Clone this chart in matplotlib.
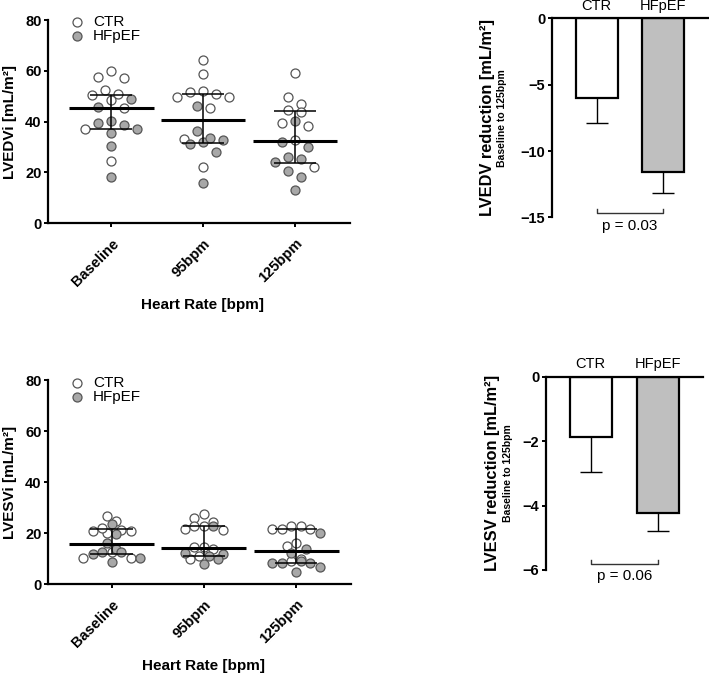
import numpy as np
import matplotlib.pyplot as plt
from matplotlib.transforms import ScaledTranslation

plt.rcParams['font.family'] = ['Liberation Sans', 'DejaVu Sans']

categories = ['Baseline', '95bpm', '125bpm']
bar_groups = ['CTR', 'HFpEF']

# LVEDVi per heart rate, CTR and HFpEF
edv_ctr = [
    [60.0, 57.0, 57.4, 52.4, 50.4, 50.8, 48.4, 45.2, 37.0, 24.3],
    [64.2, 58.9, 51.7, 50.7, 49.7, 49.7, 52.1, 45.2, 33.3, 22.2],
    [59.2, 49.7, 46.9, 43.8, 44.5, 39.6, 38.3, 32.7, 22.2],
]
edv_hf = [
    [48.8, 45.8, 38.6, 39.5, 35.6, 40.3, 37.0, 30.3, 18.2],
    [46.1, 36.2, 32.9, 32.0, 31.1, 33.6, 28.1, 15.6],
    [40.3, 32.0, 29.8, 26.1, 24.1, 25.2, 20.6, 18.0, 13.0],
]
edv_median = [45.2, 40.6, 32.3]
edv_q1 = [36.9, 31.6, 23.5]
edv_q3 = [50.6, 51.0, 44.1]

# LVESVi per heart rate
esv_ctr = [
    [26.7, 24.8, 20.9, 20.1, 21.8, 21.2, 20.9, 12.7, 10.1, 10.1],
    [27.5, 25.8, 24.4, 22.7, 21.4, 22.7, 21.2, 14.6, 14.6, 13.6, 11.1, 9.7],
    [21.6, 21.6, 21.6, 22.9, 22.9, 16.0, 14.9, 9.7, 9.1],
]
esv_hf = [
    [23.5, 19.6, 16.0, 13.7, 12.7, 12.7, 11.8, 10.1, 8.5],
    [22.7, 12.0, 11.8, 9.7, 11.1, 7.8],
    [19.9, 12.3, 13.6, 8.4, 8.1, 8.1, 9.0, 6.8, 4.8],
]
esv_median = [15.7, 14.2, 13.1]
esv_q1 = [11.8, 11.1, 8.1]
esv_q3 = [21.4, 22.7, 21.6]

# reduction baseline -> 125bpm (mean, sem)
edv_red = [-6.0, -11.56]
edv_red_err = [1.91, 1.58]
esv_red = [-1.88, -4.24]
esv_red_err = [1.09, 0.54]
p_edv = 'p = 0.03'
p_esv = 'p = 0.06'

GREY = '#a8a8a8'
EDGE = '#555555'


def row_offsets(values, ypx, xpx, h, s):
    # group close values into rows, spread each row around the centre
    y = np.asarray(values) * ypx
    xs = np.zeros(len(y))
    rows = []
    for i in np.argsort(-y, kind='stable'):
        if rows and y[rows[-1][0]] - y[i] < h:
            rows[-1].append(i)
        else:
            rows.append([i])
    for row in rows:
        n = len(row)
        slots = (np.arange(n) - (n - 1) / 2) * s
        order = sorted(range(n), key=lambda k: (abs(slots[k]), slots[k]))
        for idx, k in zip(row, order):
            xs[idx] = slots[k]
    return xs / xpx


def dot_panel(ax, ctr, hf, med, q1, q3, ylabel, ypx, leg_y, h, s):
    for k in range(3):
        vals = np.array(ctr[k] + hf[k])
        is_hf = np.array([False] * len(ctr[k]) + [True] * len(hf[k]))
        off = row_offsets(vals, ypx, 92.0, h, s)
        ax.scatter(k + off[~is_hf], vals[~is_hf], s=42, facecolor='white',
                   edgecolor=EDGE, lw=0.9, zorder=2)
        ax.scatter(k + off[is_hf], vals[is_hf], s=42, facecolor=GREY,
                   edgecolor=EDGE, lw=0.9, zorder=2)
    x = np.arange(3)
    ax.hlines(med, x - 0.46, x + 0.46, color='black', lw=2.2, zorder=4)
    ax.vlines(x, q1, q3, color='black', lw=1.1, zorder=4)
    ax.hlines(q1, x - 0.23, x + 0.23, color='black', lw=1.1, zorder=4)
    ax.hlines(q3, x - 0.23, x + 0.23, color='black', lw=1.1, zorder=4)

    ax.set_xlim(-0.69, 2.6)
    ax.set_ylim(0, 80)
    ax.set_yticks([0, 20, 40, 60, 80])
    ax.set_xticks(x)
    ax.set_xticklabels(categories, rotation=45, ha='right', va='top',
                       rotation_mode='anchor', fontweight='bold', fontsize=10.5)
    for lbl in ax.get_xticklabels():
        lbl.set_transform(lbl.get_transform() + ScaledTranslation(0.07, 0, fig.dpi_scale_trans))
    for lbl in ax.get_yticklabels():
        lbl.set_fontweight('bold')
        lbl.set_fontsize(10.5)
    ax.tick_params(axis='both', length=3, width=1.4, pad=1.5)
    ax.tick_params(axis='x', pad=6.5)
    for sp in ['top', 'right']:
        ax.spines[sp].set_visible(False)
    for sp in ['left', 'bottom']:
        ax.spines[sp].set_linewidth(1.6)

    ax.text(-0.126, 0.5, ylabel, transform=ax.transAxes, rotation=90,
            ha='center', va='center', fontweight='bold', fontsize=11)
    ax.text(0.513, -0.404, 'Heart Rate [bpm]', transform=ax.transAxes,
            ha='center', va='center', fontweight='bold', fontsize=11)

    # legend
    ax.scatter([0.096], [leg_y[0]], s=42, facecolor='white', edgecolor=EDGE, lw=0.9,
               transform=ax.transAxes, clip_on=False)
    ax.scatter([0.096], [leg_y[1]], s=42, facecolor=GREY, edgecolor=EDGE, lw=0.9,
               transform=ax.transAxes, clip_on=False)
    ax.text(0.149, leg_y[0], 'CTR', transform=ax.transAxes, va='center', fontsize=11)
    ax.text(0.149, leg_y[1], 'HFpEF', transform=ax.transAxes, va='center', fontsize=11)


def bar_panel(ax, means, errs, low, ticks, xlim, ptext, br_y, p_y, title, lab_x):
    x = np.arange(2)
    means = np.array(means)
    errs = np.array(errs)
    ax.bar(x, means, width=0.63, color=['white', '#bfbfbf'], edgecolor='black',
           lw=1.6, zorder=2)
    ax.vlines(x, means - errs, means, color='black', lw=1.0, zorder=1)
    ax.hlines(means - errs, x - 0.165, x + 0.165, color='black', lw=1.0, zorder=1)

    ax.set_xlim(*xlim)
    ax.set_ylim(low, 0)
    ax.set_yticks(ticks)
    ax.set_xticks(x)
    ax.set_xticklabels(bar_groups, fontsize=10.5)
    ax.xaxis.tick_top()
    ax.tick_params(axis='x', length=0, pad=4)
    ax.tick_params(axis='y', length=3, width=1.4, pad=1.5)
    for lbl in ax.get_yticklabels():
        lbl.set_fontweight('bold')
        lbl.set_fontsize(10.5)
    for sp in ['bottom', 'right']:
        ax.spines[sp].set_visible(False)
    for sp in ['left', 'top']:
        ax.spines[sp].set_linewidth(1.6)

    # significance bracket
    ax.plot([0, 0, 1, 1], [br_y[1], br_y[0], br_y[0], br_y[1]], color='#333333',
            lw=1.0, clip_on=False)
    ax.text(0.5, p_y, ptext, ha='center', va='center', fontsize=11, clip_on=False)

    ax.text(lab_x[0], 0.5, title + ' reduction [mL/m²]', transform=ax.transAxes,
            rotation=90, ha='center', va='center', fontweight='bold', fontsize=11.8)
    ax.text(lab_x[1], 0.5, 'Baseline to 125bpm', transform=ax.transAxes,
            rotation=90, ha='center', va='center', fontweight='bold', fontsize=7.5)


fig = plt.figure(figsize=(7.09, 6.75), dpi=100)

ax1 = fig.add_axes([0.0677, 0.6696, 0.426, 0.3007])
dot_panel(ax1, edv_ctr, edv_hf, edv_median, edv_q1, edv_q3, 'LVEDVi [mL/m²]', 2.54,
          (0.990, 0.921), 10.0, 13.0)

ax2 = fig.add_axes([0.0677, 0.1348, 0.428, 0.3022])
dot_panel(ax2, esv_ctr, esv_hf, esv_median, esv_q1, esv_q3, 'LVESVi [mL/m²]', 2.55,
          (0.987, 0.915), 8.0, 9.5)

ax3 = fig.add_axes([0.778, 0.678, 0.222, 0.2948])
bar_panel(ax3, edv_red, edv_red_err, -15, [-15, -10, -5, 0], (-0.676, 1.686),
          p_edv, (-14.65, -14.4), -15.65, 'LVEDV', (-0.405, -0.316))

ax4 = fig.add_axes([0.7697, 0.1556, 0.2219, 0.2863])
bar_panel(ax4, esv_red, esv_red_err, -6, [-6, -4, -2, 0], (-0.671, 1.67),
          p_esv, (-5.82, -5.69), -6.19, 'LVESV', (-0.339, -0.238))

fig.savefig('out.png', dpi=100)
